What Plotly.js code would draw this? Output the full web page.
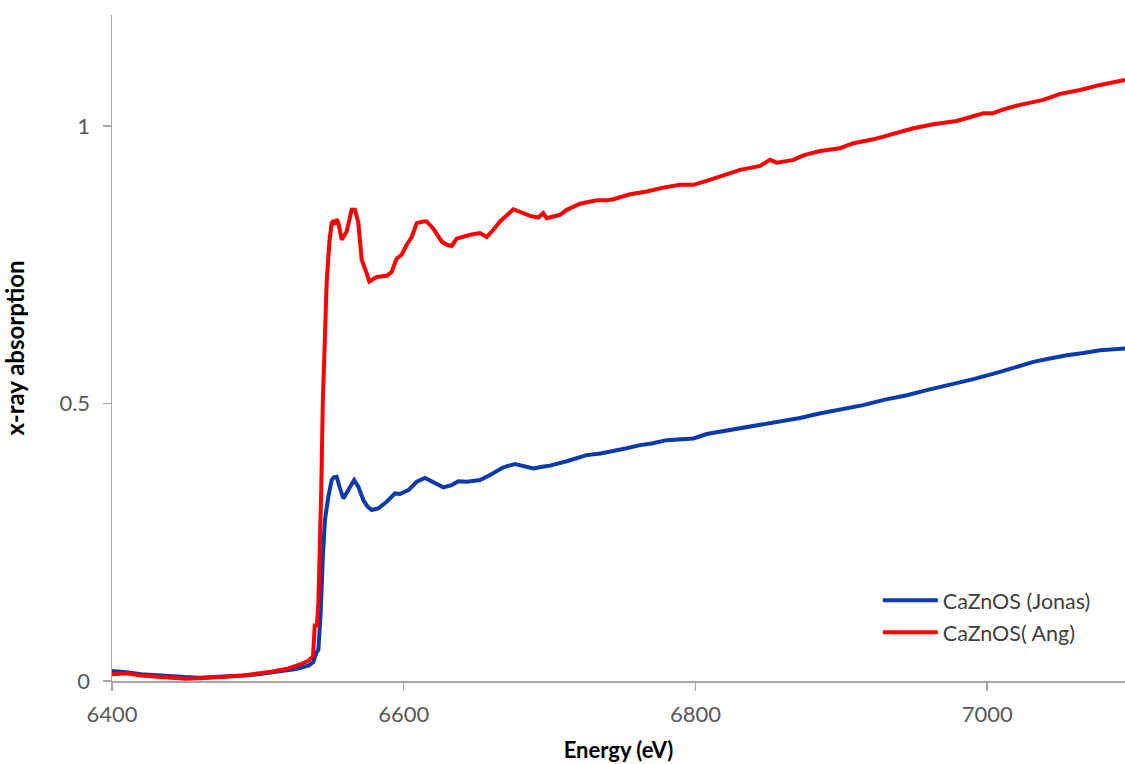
<!DOCTYPE html>
<html>
<head>
<meta charset="utf-8">
<script src="https://cdn.plot.ly/plotly-3.0.1.min.js"></script>
<style>html,body{margin:0;padding:0;background:#fff;}#chart{width:1125px;height:764px;}</style>
</head>
<body>
<div id="chart"></div>
<script>
var seriesNames = ["CaZnOS (Jonas)", "CaZnOS( Ang)"];

var jonasEnergy = [6400,6410,6420,6430,6440,6450,6460,6470,6480,6490,6500,6510,6520,6525,6530,6535,6538,6540,6541.5,6543,6544.5,6546,6548.3,6550.6,6552,6554,6556,6558.6,6562,6566,6568.9,6572.3,6575,6578,6582.6,6588.3,6594,6597.5,6603.2,6608.9,6614.6,6620.3,6627.2,6632.9,6637.5,6643.2,6652.3,6659.2,6668.3,6676.3,6682,6688.9,6695,6700.3,6711.7,6725.4,6735,6743.7,6752,6762,6770,6780.3,6789,6798.6,6807.7,6823.7,6840,6855,6871.7,6885,6900,6915,6930,6945,6960,6975,6990.6,7008.8,7020,7031.7,7043,7054.6,7066,7077.4,7094.5];
var jonasAbs = [0.018,0.016,0.012,0.010,0.008,0.007,0.006,0.007,0.008,0.010,0.012,0.015,0.019,0.021,0.024,0.028,0.034,0.05,0.056,0.12,0.22,0.29,0.332,0.362,0.367,0.368,0.35,0.329,0.344,0.362,0.35,0.326,0.315,0.308,0.311,0.323,0.338,0.337,0.344,0.359,0.366,0.359,0.349,0.353,0.36,0.359,0.362,0.371,0.385,0.391,0.388,0.383,0.386,0.388,0.396,0.407,0.410,0.414,0.419,0.425,0.428,0.434,0.436,0.437,0.445,0.452,0.459,0.467,0.474,0.482,0.49,0.497,0.507,0.515,0.525,0.534,0.544,0.557,0.565,0.575,0.581,0.587,0.591,0.596,0.599];

var angEnergy = [6400,6405,6410,6420,6430,6440,6450,6460,6470,6480,6490,6500,6510,6520,6525,6530,6535,6537.8,6539,6540.5,6541.5,6542.5,6543.5,6544.5,6545.5,6547.2,6549,6550.6,6552,6552.9,6554,6555.2,6557.5,6560.9,6564.3,6566.6,6568.9,6571.2,6574.6,6576.4,6581.4,6588.3,6591.7,6595.1,6598.6,6602,6605.5,6608.9,6613.5,6615.7,6620.3,6626,6629.5,6632.9,6636.3,6639.7,6645.5,6652.3,6656.9,6661.5,6666,6675.2,6679.7,6686.6,6692.3,6695.7,6698,6707.2,6711.7,6720.9,6732.3,6739.1,6743.7,6755.2,6766.6,6778,6789.5,6798.6,6807.7,6816.9,6830.6,6844.3,6851.2,6855.7,6867.2,6874,6885.4,6899.1,6908.3,6922,6935.7,6949.4,6963.1,6979.1,6997.4,7004.2,7011.1,7022.5,7038.5,7050,7063.7,7077.5,7094.5];
var angAbs = [0.012,0.013,0.014,0.010,0.008,0.005,0.004,0.005,0.006,0.008,0.010,0.013,0.017,0.022,0.026,0.031,0.037,0.045,0.1,0.1,0.14,0.22,0.35,0.5,0.6,0.72,0.79,0.825,0.83,0.822,0.832,0.826,0.795,0.81,0.849,0.849,0.825,0.759,0.735,0.72,0.728,0.73,0.737,0.761,0.768,0.786,0.80,0.825,0.828,0.828,0.815,0.792,0.786,0.784,0.797,0.80,0.804,0.807,0.80,0.813,0.828,0.85,0.846,0.838,0.835,0.843,0.834,0.84,0.849,0.86,0.866,0.866,0.868,0.877,0.882,0.889,0.894,0.894,0.901,0.909,0.921,0.928,0.939,0.934,0.939,0.947,0.955,0.96,0.969,0.976,0.986,0.996,1.003,1.009,1.023,1.023,1.03,1.038,1.047,1.058,1.065,1.074,1.083];

var xTickVals = [6400, 6600, 6800, 7000];
var xTickText = ["6400", "6600", "6800", "7000"];
var yTickVals = [0, 0.5, 1];
var yTickText = ["0", "0.5", "1"];

var traces = [
  {x: jonasEnergy, y: jonasAbs, name: seriesNames[0], type: "scatter", mode: "lines",
   line: {color: "#0a3aad", width: 4}, legendgroup: "a"},
  {x: angEnergy, y: angAbs, name: seriesNames[1], type: "scatter", mode: "lines",
   line: {color: "#ff0000", width: 4}, legendgroup: "b"}
];

var fam = "Lato, 'Open Sans', sans-serif";
var axisFont = {family: fam, size: 22, color: "#595959"};
var layout = {
  width: 1125, height: 764,
  margin: {l: 112, r: 0, t: 15, b: 83},
  paper_bgcolor: "#fff", plot_bgcolor: "#fff",
  showlegend: true,
  legend: {x: 0.756, y: 0.152, xanchor: "left", yanchor: "top", tracegroupgap: 1,
           font: {family: fam, size: 21.5, color: "#404040"},
           bgcolor: "rgba(0,0,0,0)", itemwidth: 55},
  xaxis: {range: [6400, 7094.5], tickvals: xTickVals, ticktext: xTickText,
          showline: true, linecolor: "#a6a6a6", linewidth: 1.5,
          ticks: "outside", ticklen: 8, tickcolor: "#a6a6a6", tickwidth: 1.5,
          ticklabelstandoff: 5,
          showgrid: false, zeroline: false, tickfont: axisFont,
          title: {text: "<b>Energy (eV)</b>", font: {family: fam, size: 22, color: "#000"}, standoff: 16}},
  yaxis: {range: [0, 1.2], tickvals: yTickVals, ticktext: yTickText,
          showline: true, linecolor: "#a6a6a6", linewidth: 1.5,
          ticks: "outside", ticklen: 8, tickcolor: "#a6a6a6", tickwidth: 1.5,
          ticklabelstandoff: 8,
          showgrid: false, zeroline: false, tickfont: axisFont,
          title: {text: "<b>x-ray absorption</b>", font: {family: fam, size: 24, color: "#000"}, standoff: 34}}
};

Plotly.newPlot("chart", traces, layout, {staticPlot: true, displayModeBar: false});
</script>
</body>
</html>
